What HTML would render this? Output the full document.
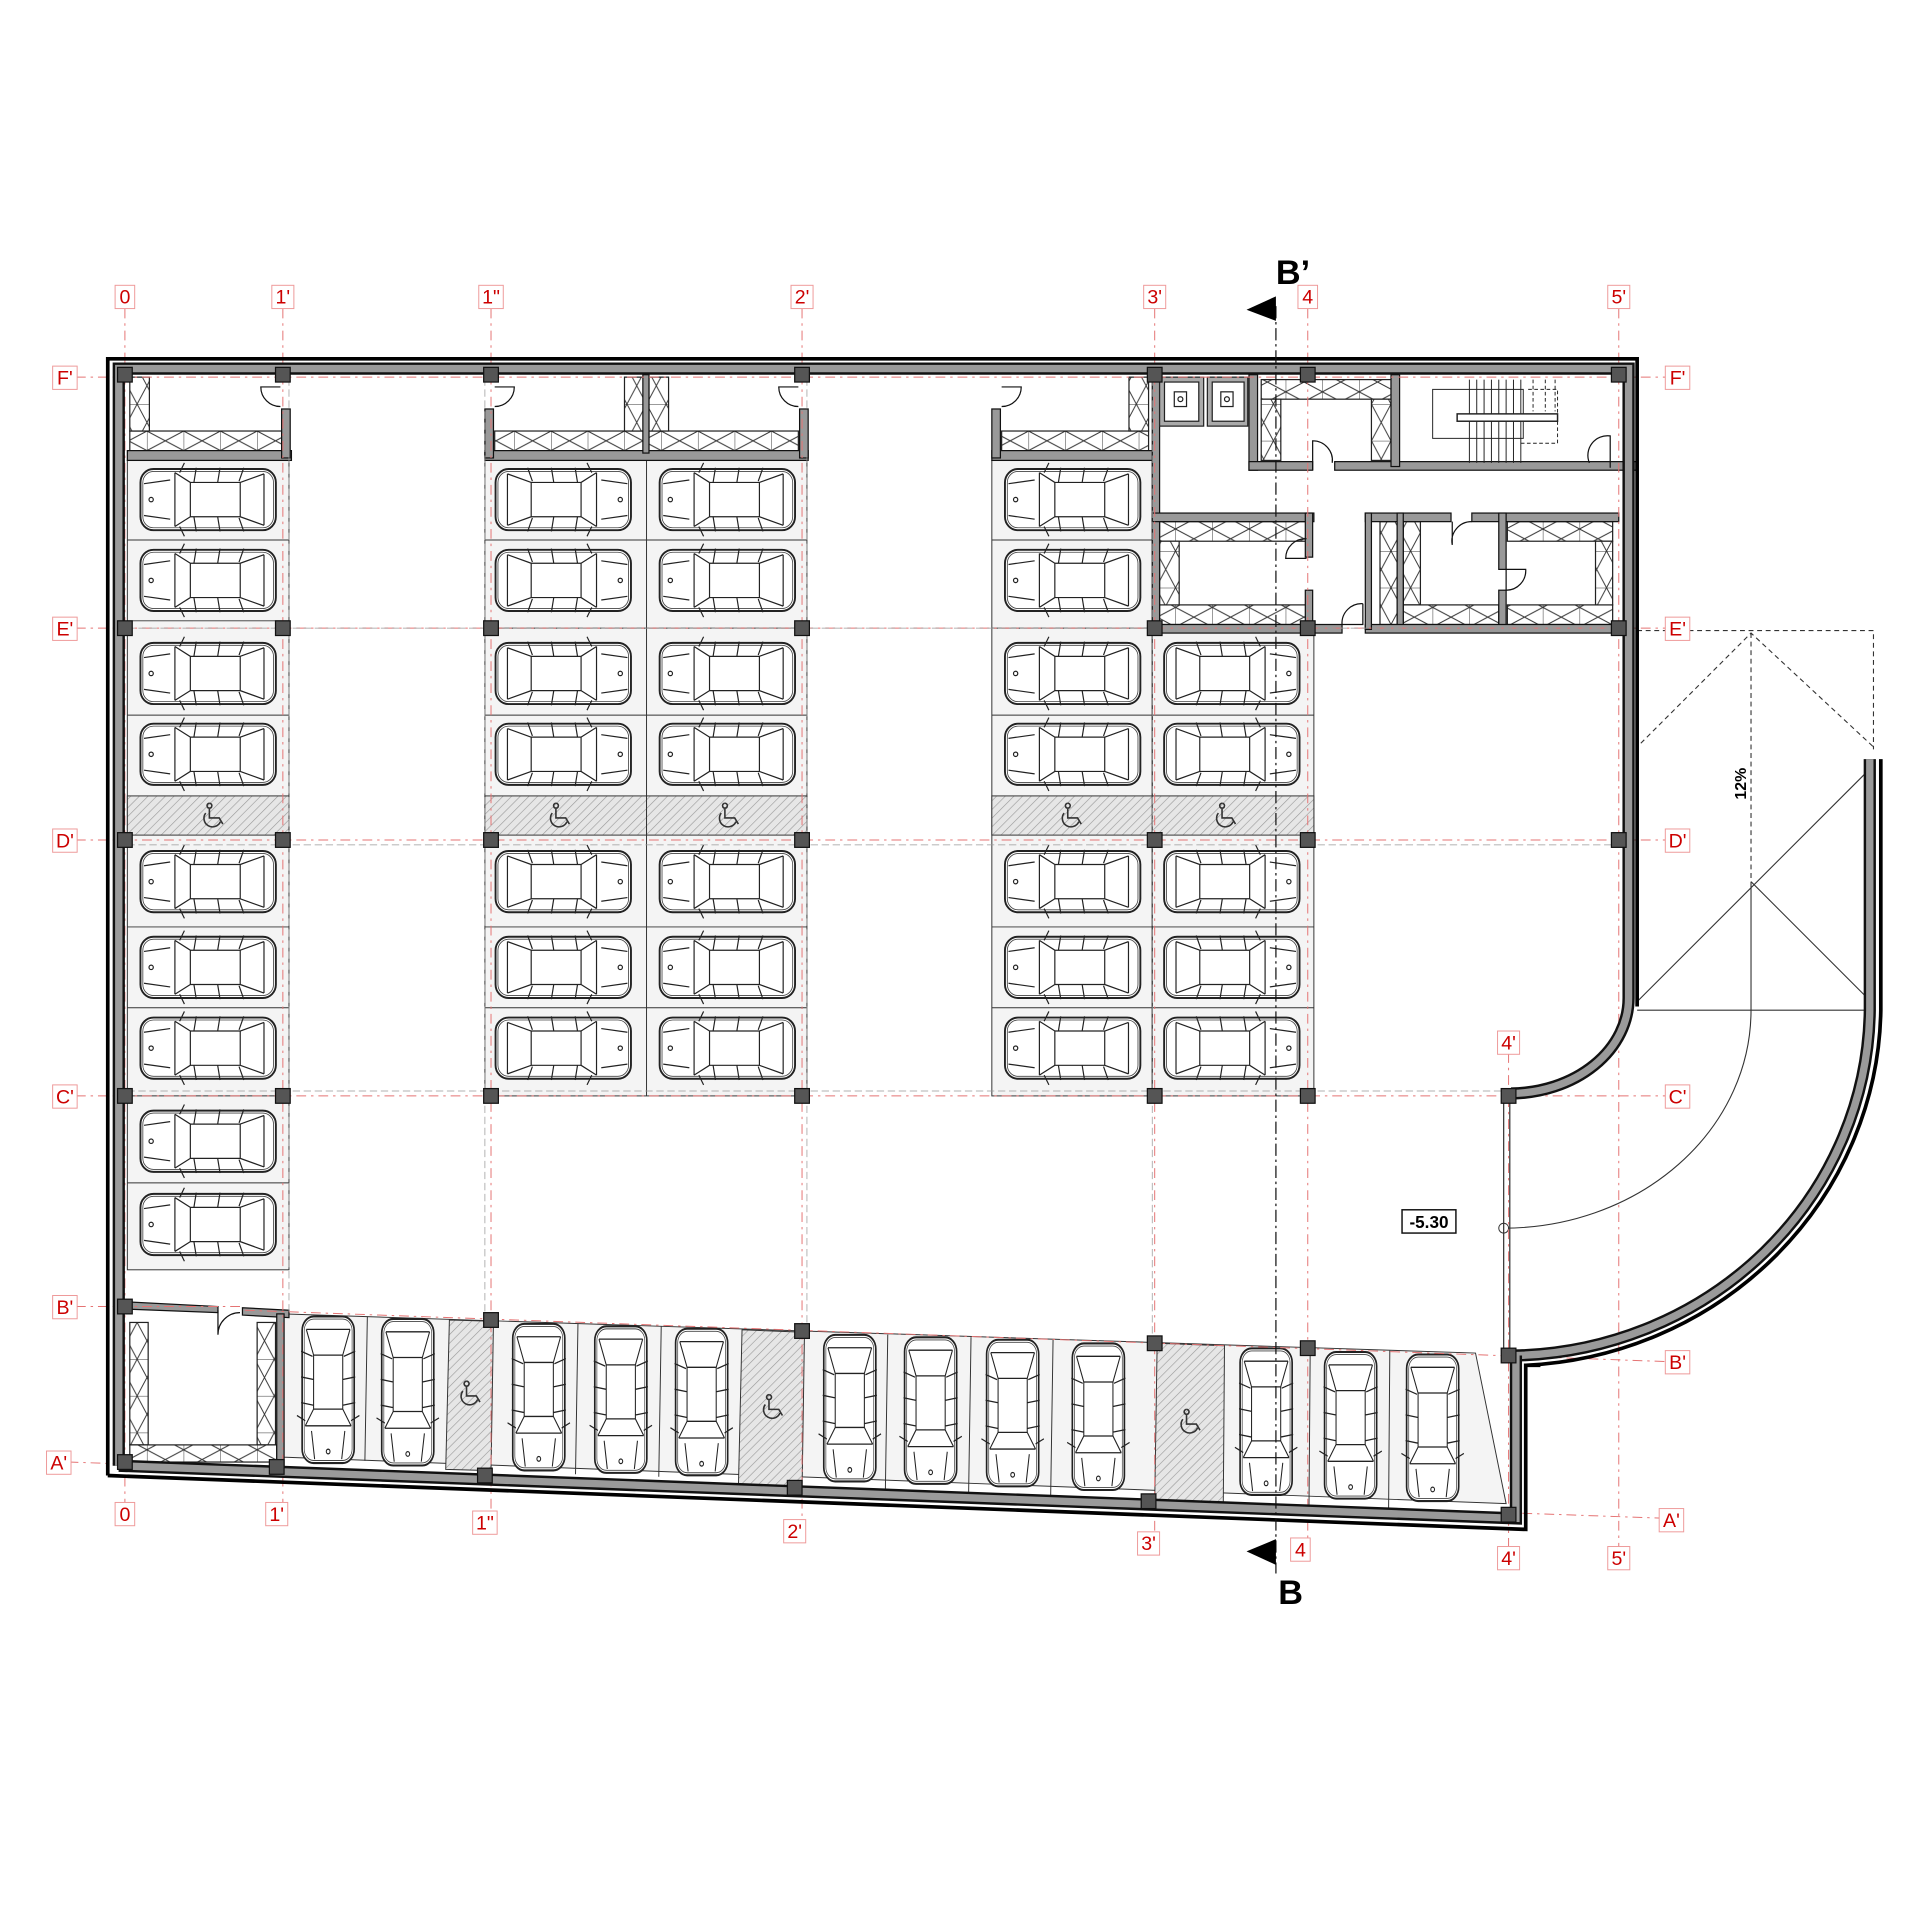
<!DOCTYPE html>
<html><head><meta charset="utf-8"><style>
html,body{margin:0;padding:0;background:#fff;}
svg{display:block;}
.lb{fill:#c00;font-family:"Liberation Sans",sans-serif;font-size:16px;text-anchor:middle;}
</style></head><body>
<svg width="1920" height="1920" viewBox="0 0 1568 1568" xmlns="http://www.w3.org/2000/svg">
<defs>
<pattern id="hat" width="5" height="5" patternUnits="userSpaceOnUse" patternTransform="rotate(45)">
<rect width="5" height="5" fill="#e6e6e6"/><line x1="0" y1="0" x2="0" y2="5" stroke="#999" stroke-width="1"/></pattern>
<pattern id="xh" width="30" height="16" patternUnits="userSpaceOnUse">
<rect width="30" height="16" fill="#fff"/><path d="M0 0L30 16M0 16L30 0M0 0V16" stroke="#333" stroke-width="0.8" fill="none"/></pattern>
<pattern id="xv" width="16" height="30" patternUnits="userSpaceOnUse">
<rect width="16" height="30" fill="#fff"/><path d="M0 0L16 30M16 0L0 30M0 0H16" stroke="#333" stroke-width="0.8" fill="none"/></pattern>
<g id="car">
<rect x="-57" y="-25" width="114" height="50" rx="11" fill="#fff" stroke="#222" stroke-width="1.6"/>
<rect x="-55" y="-23" width="110" height="46" rx="9" fill="none" stroke="#444" stroke-width="0.7"/>
<path d="M-47 -21V21M-47 -21L-27 -14M-47 21L-27 14M-27 -14H15M-27 14H15M-27 -14V14M15 -14V14M15 -14L28 -22M15 14L28 22M28 -22V22M32 -16L54 -13M32 16L54 13M-30 -26L-26 -15M-10 -26L-8 -14M10 -26L12 -14M20 -30L24 -22M20 30L24 22M-30 26L-26 15M-10 26L-8 14M10 26L12 14" stroke="#222" stroke-width="1" fill="none"/>
<circle cx="48" cy="0" r="1.8" fill="none" stroke="#222"/>
</g>
<g id="hc"><path d="M-4 -9a2 2 0 1 0 0.1 0M-4 -5V3H4L7 8M-7 -1A7 7 0 1 0 5 6" stroke="#333" stroke-width="1.3" fill="none"/></g>
<rect id="col" x="-6" y="-6" width="12" height="12" fill="#555" stroke="#111" stroke-width="1"/>
</defs>

<!-- parking floor backgrounds -->
<g fill="#f4f4f4" stroke="#333" stroke-width="0.8">
<rect x="104" y="376" width="132" height="661"/>
<rect x="396" y="376" width="263" height="519"/>
<rect x="810" y="376" width="131" height="519"/>
<rect x="941" y="513" width="132" height="382"/>
</g>
<g stroke="#333" stroke-width="0.8">
<path d="M104 441H236M104 507H236M104 584H236M104 757H236M104 823H236M104 895H236M104 966H236"/>
<path d="M396 441H659M396 513H659M396 584H659M396 757H659M396 823H659M528 376V895"/>
<path d="M810 441H941M810 513H1073M810 584H1073M810 757H1073M810 823H1073M941 513V895"/>
</g>
<g fill="url(#hat)" stroke="#333" stroke-width="0.8">
<rect x="104" y="650" width="132" height="32"/>
<rect x="396" y="650" width="132" height="32"/><rect x="528" y="650" width="131" height="32"/>
<rect x="810" y="650" width="131" height="32"/><rect x="941" y="650" width="132" height="32"/>
</g>
<use href="#hc" x="175" y="665"/><use href="#hc" x="458" y="665"/><use href="#hc" x="596" y="665"/><use href="#hc" x="876" y="665"/><use href="#hc" x="1002" y="665"/>

<!-- bottom row -->
<path d="M231 1073L1205 1105L1230 1228L231 1190Z" fill="#f4f4f4" stroke="#333" stroke-width="0.8"/>
<g fill="url(#hat)" stroke="#333" stroke-width="0.8">
<path d="M367 1078L403 1079L401 1201L364 1200Z"/>
<path d="M606 1086L657 1088L655 1218L603 1216Z"/>
<path d="M945 1097L1000 1099L999 1230L943 1228Z"/>
</g>
<g stroke="#333" stroke-width="0.8">
<path d="M300 1075L298 1193M472 1081L470 1204M540 1083L538 1206M725 1090L723 1220M793 1092L791 1222M860 1094L858 1225M1070 1101L1069 1233M1135 1103L1134 1235"/>
</g>
<use href="#hc" x="385" y="1137"/><use href="#hc" x="632" y="1148"/><use href="#hc" x="973" y="1160"/>
<g>
<use href="#car" transform="translate(268,1135) rotate(90) scale(1.05,0.85)"/>
<use href="#car" transform="translate(333,1137) rotate(90) scale(1.05,0.85)"/>
<use href="#car" transform="translate(440,1141) rotate(90) scale(1.05,0.85)"/>
<use href="#car" transform="translate(507,1143) rotate(90) scale(1.05,0.85)"/>
<use href="#car" transform="translate(573,1145) rotate(90) scale(1.05,0.85)"/>
<use href="#car" transform="translate(694,1150) rotate(90) scale(1.05,0.85)"/>
<use href="#car" transform="translate(760,1152) rotate(90) scale(1.05,0.85)"/>
<use href="#car" transform="translate(827,1154) rotate(90) scale(1.05,0.85)"/>
<use href="#car" transform="translate(897,1157) rotate(90) scale(1.05,0.85)"/>
<use href="#car" transform="translate(1034,1161) rotate(90) scale(1.05,0.85)"/>
<use href="#car" transform="translate(1103,1164) rotate(90) scale(1.05,0.85)"/>
<use href="#car" transform="translate(1170,1166) rotate(90) scale(1.05,0.85)"/>
</g>

<!-- cars -->
<g>
<use href="#car" transform="translate(170,408) scale(-0.97,1)"/>
<use href="#car" transform="translate(170,474) scale(-0.97,1)"/>
<use href="#car" transform="translate(170,550) scale(-0.97,1)"/>
<use href="#car" transform="translate(170,616) scale(-0.97,1)"/>
<use href="#car" transform="translate(170,720) scale(-0.97,1)"/>
<use href="#car" transform="translate(170,790) scale(-0.97,1)"/>
<use href="#car" transform="translate(170,856) scale(-0.97,1)"/>
<use href="#car" transform="translate(170,932) scale(-0.97,1)"/>
<use href="#car" transform="translate(170,1000) scale(-0.97,1)"/>
<use href="#car" transform="translate(460,408) scale(0.97,1)"/>
<use href="#car" transform="translate(460,474) scale(0.97,1)"/>
<use href="#car" transform="translate(460,550) scale(0.97,1)"/>
<use href="#car" transform="translate(460,616) scale(0.97,1)"/>
<use href="#car" transform="translate(460,720) scale(0.97,1)"/>
<use href="#car" transform="translate(460,790) scale(0.97,1)"/>
<use href="#car" transform="translate(460,856) scale(0.97,1)"/>
<use href="#car" transform="translate(594,408) scale(-0.97,1)"/>
<use href="#car" transform="translate(594,474) scale(-0.97,1)"/>
<use href="#car" transform="translate(594,550) scale(-0.97,1)"/>
<use href="#car" transform="translate(594,616) scale(-0.97,1)"/>
<use href="#car" transform="translate(594,720) scale(-0.97,1)"/>
<use href="#car" transform="translate(594,790) scale(-0.97,1)"/>
<use href="#car" transform="translate(594,856) scale(-0.97,1)"/>
<use href="#car" transform="translate(876,408) scale(-0.97,1)"/>
<use href="#car" transform="translate(876,474) scale(-0.97,1)"/>
<use href="#car" transform="translate(876,550) scale(-0.97,1)"/>
<use href="#car" transform="translate(876,616) scale(-0.97,1)"/>
<use href="#car" transform="translate(876,720) scale(-0.97,1)"/>
<use href="#car" transform="translate(876,790) scale(-0.97,1)"/>
<use href="#car" transform="translate(876,856) scale(-0.97,1)"/>
<use href="#car" transform="translate(1006,550) scale(0.97,1)"/>
<use href="#car" transform="translate(1006,616) scale(0.97,1)"/>
<use href="#car" transform="translate(1006,720) scale(0.97,1)"/>
<use href="#car" transform="translate(1006,790) scale(0.97,1)"/>
<use href="#car" transform="translate(1006,856) scale(0.97,1)"/>
</g>

<!-- storage rooms top -->
<g stroke="#222" stroke-width="1">
<rect x="106" y="352" width="124" height="16" fill="url(#xh)"/>
<rect x="106" y="308" width="16" height="44" fill="url(#xv)"/>
<rect x="404" y="352" width="122" height="16" fill="url(#xh)"/>
<rect x="510" y="308" width="16" height="44" fill="url(#xv)"/>
<rect x="530" y="352" width="122" height="16" fill="url(#xh)"/>
<rect x="530" y="308" width="16" height="44" fill="url(#xv)"/>
<rect x="818" y="352" width="120" height="16" fill="url(#xh)"/>
<rect x="922" y="308" width="16" height="44" fill="url(#xv)"/>
</g>
<g fill="#999" stroke="#111" stroke-width="1">
<rect x="104" y="368" width="134" height="8"/>
<rect x="230" y="334" width="7" height="40"/>
<rect x="396" y="368" width="264" height="8"/>
<rect x="396" y="334" width="7" height="40"/>
<rect x="653" y="334" width="7" height="40"/>
<rect x="525" y="306" width="5" height="64"/>
<rect x="810" y="368" width="134" height="8"/>
<rect x="810" y="334" width="7" height="40"/>
</g>
<g stroke="#111" stroke-width="1" fill="none">
<path d="M229 316H213A16 16 0 0 0 229 332"/>
<path d="M404 316H420A16 16 0 0 1 404 332"/>
<path d="M652 316H636A16 16 0 0 0 652 332"/>
<path d="M818 316H834A16 16 0 0 1 818 332"/>
</g>

<!-- bottom-left room -->
<g stroke="#222" stroke-width="1">
<rect x="106" y="1080" width="15" height="100" fill="url(#xv)"/>
<rect x="210" y="1080" width="15" height="100" fill="url(#xv)"/>
<rect x="106" y="1180" width="120" height="14" fill="url(#xh)"/>
</g>
<g fill="#999" stroke="#111" stroke-width="1">
<path d="M100 1063L178 1067V1072L100 1069Z"/>
<path d="M198 1068L236 1070V1076L198 1074Z"/>
<rect x="226" y="1073" width="6" height="125"/>
</g>
<path d="M178 1070V1090A18 18 0 0 1 196 1072" fill="none" stroke="#111"/>

<!-- core -->
<g stroke="#222" stroke-width="1">
<rect x="1030" y="310" width="106" height="16" fill="url(#xh)"/>
<rect x="1030" y="326" width="16" height="50" fill="url(#xv)"/>
<rect x="1120" y="326" width="16" height="50" fill="url(#xv)"/>
<rect x="947" y="426" width="120" height="16" fill="url(#xh)"/>
<rect x="947" y="494" width="120" height="16" fill="url(#xh)"/>
<rect x="947" y="442" width="16" height="52" fill="url(#xv)"/>
<rect x="1127" y="426" width="14" height="84" fill="url(#xv)"/>
<rect x="1146" y="426" width="14" height="68" fill="url(#xv)"/>
<rect x="1146" y="494" width="78" height="16" fill="url(#xh)"/>
<rect x="1231" y="426" width="86" height="16" fill="url(#xh)"/>
<rect x="1231" y="494" width="86" height="16" fill="url(#xh)"/>
<rect x="1303" y="442" width="14" height="52" fill="url(#xv)"/>
</g>
<g fill="#999" stroke="#111" stroke-width="1">
<rect x="941" y="308" width="6" height="205"/>
<rect x="1020" y="306" width="7" height="78"/>
<rect x="1020" y="377" width="52" height="7"/>
<rect x="1090" y="377" width="247" height="7"/>
<rect x="1136" y="306" width="7" height="75"/>
<rect x="941" y="419" width="132" height="7"/>
<rect x="1066" y="419" width="6" height="36"/>
<rect x="1066" y="482" width="6" height="30"/>
<rect x="1115" y="419" width="70" height="7"/>
<rect x="1202" y="419" width="120" height="7"/>
<rect x="1141" y="419" width="5" height="94"/>
<rect x="1224" y="419" width="6" height="46"/>
<rect x="1224" y="482" width="6" height="30"/>
<rect x="941" y="510" width="155" height="7"/>
<rect x="1115" y="510" width="215" height="7"/>
<rect x="1115" y="419" width="5" height="95"/>
</g>
<g stroke="#111" stroke-width="1" fill="none">
<path d="M1072 384V360A16 16 0 0 1 1088 378"/>
<path d="M1315 382V356A16 16 0 0 0 1298 378"/>
<path d="M1067 456H1050A16 16 0 0 1 1067 440"/>
<path d="M1113 493V510H1096A16 16 0 0 1 1113 493"/>
<path d="M1186 426V445A16 16 0 0 1 1202 426"/>
<path d="M1230 465V482A16 16 0 0 0 1246 465Z"/>
</g>
<!-- elevators -->
<g stroke="#222" stroke-width="1" fill="#fff">
<rect x="947" y="308" width="36" height="40" fill="#aaa"/><rect x="951" y="312" width="28" height="32"/>
<rect x="986" y="308" width="33" height="40" fill="#aaa"/><rect x="990" y="312" width="26" height="32"/>
<rect x="959" y="320" width="10" height="12"/><circle cx="964" cy="326" r="2"/>
<rect x="997" y="320" width="10" height="12"/><circle cx="1002" cy="326" r="2"/>
</g>
<!-- stair -->
<g stroke="#222" stroke-width="0.8" fill="none">
<rect x="1170" y="318" width="74" height="40"/>
<path d="M1200 310V378M1206 310V378M1212 310V378M1218 310V378M1224 310V378M1230 310V378M1236 310V378M1242 310V378"/>
<rect x="1190" y="338" width="82" height="6" fill="#fff" stroke-width="1.2"/>
<path d="M1248 318H1272V362H1240M1252 310V336M1262 310V336M1270 310V336" stroke-dasharray="3 2"/>
</g>

<!-- ramp -->
<g stroke="#333" stroke-width="0.9" fill="none">
<path d="M1337 515H1530V612M1340 607L1430 517L1530 610M1430 517V720" stroke-dasharray="4 3"/>
<path d="M1337 818L1530 625M1430 720L1530 820M1337 825H1530M1430 720V825A202 178 0 0 1 1228 1003"/>
</g>
<circle cx="1228" cy="1003" r="4" fill="#fff" stroke="#333" stroke-width="0.8"/>
<text x="1426" y="640" transform="rotate(-90 1426 640)" font-family="Liberation Sans,sans-serif" font-size="13" font-weight="bold" text-anchor="middle">12%</text>
<rect x="1145" y="988" width="44" height="19" fill="#fff" stroke="#111" stroke-width="1.2"/>
<text x="1167" y="1003" font-family="Liberation Sans,sans-serif" font-size="14" font-weight="bold" text-anchor="middle">-5.30</text>

<!-- grid lines -->
<g stroke="#e57373" stroke-width="0.8" stroke-dasharray="8 4 2 4" fill="none">
<path d="M102 252V1228M231 252V1228M401 252V1236M655 252V1242M943 252V1252M1068 252V1257M1322 252V1264M1232 860V1264"/>
<path d="M62 308H1362M62 513H1362M62 686H1362M62 895H1362M62 1067H200M200 1070L1362 1112M56 1194L1362 1240"/>
</g>
<g stroke="#999" stroke-width="0.6" stroke-dasharray="6 3" fill="none">
<path d="M104 513H1330M104 690H1330M104 891H1232M236 300V1073M396 300V1073M659 300V1088M941 300V1095"/>
</g>

<!-- walls -->
<g fill="none" stroke-linejoin="miter">
<path d="M97 1197V301H1330V815A97 78 0 0 1 1234 893" stroke="#111" stroke-width="10"/>
<path d="M97 1197V301H1330V815A97 78 0 0 1 1234 893" stroke="#9a9a9a" stroke-width="6"/>
<path d="M1237 1107A296 286 0 0 0 1527 825V620" stroke="#111" stroke-width="10"/>
<path d="M1237 1107A296 286 0 0 0 1527 825V620" stroke="#9a9a9a" stroke-width="6"/>
<path d="M97 1197L1238 1240V1107" stroke="#111" stroke-width="10"/>
<path d="M97 1197L1238 1240V1107" stroke="#9a9a9a" stroke-width="6"/>
<path d="M88 1205V293H1337V822" stroke="#000" stroke-width="3"/>
<path d="M88 1205L1246 1249V1115H1258" stroke="#000" stroke-width="3"/>
<path d="M1246 1115A305 295 0 0 0 1536 825V620" stroke="#000" stroke-width="3"/>
<path d="M1228 900V1103M1233 900V1103" stroke="#333" stroke-width="1"/>
</g>

<!-- columns -->
<g>
<use href="#col" x="102" y="306"/><use href="#col" x="231" y="306"/><use href="#col" x="401" y="306"/><use href="#col" x="655" y="306"/><use href="#col" x="943" y="306"/><use href="#col" x="1068" y="306"/><use href="#col" x="1322" y="306"/>
<use href="#col" x="102" y="513"/><use href="#col" x="231" y="513"/><use href="#col" x="401" y="513"/><use href="#col" x="655" y="513"/><use href="#col" x="943" y="513"/><use href="#col" x="1068" y="513"/><use href="#col" x="1322" y="513"/>
<use href="#col" x="102" y="686"/><use href="#col" x="231" y="686"/><use href="#col" x="401" y="686"/><use href="#col" x="655" y="686"/><use href="#col" x="943" y="686"/><use href="#col" x="1068" y="686"/><use href="#col" x="1322" y="686"/>
<use href="#col" x="102" y="895"/><use href="#col" x="231" y="895"/><use href="#col" x="401" y="895"/><use href="#col" x="655" y="895"/><use href="#col" x="943" y="895"/><use href="#col" x="1068" y="895"/><use href="#col" x="1232" y="895"/>
<use href="#col" x="102" y="1067"/><use href="#col" x="401" y="1078"/><use href="#col" x="655" y="1087"/><use href="#col" x="943" y="1097"/><use href="#col" x="1068" y="1101"/><use href="#col" x="1232" y="1107"/>
<use href="#col" x="102" y="1194"/><use href="#col" x="226" y="1198"/><use href="#col" x="396" y="1205"/><use href="#col" x="649" y="1215"/><use href="#col" x="938" y="1226"/><use href="#col" x="1232" y="1237"/>
</g>

<!-- section line -->
<path d="M1042 250V1285" stroke="#111" stroke-width="1" stroke-dasharray="10 3 2 3"/>
<path d="M1042 242L1018 253L1042 262Z" fill="#000"/>
<path d="M1042 1257L1018 1267L1042 1278Z" fill="#000"/>
<text x="1056" y="232" font-family="Liberation Sans,sans-serif" font-size="28" font-weight="bold" text-anchor="middle">B’</text>
<text x="1054" y="1310" font-family="Liberation Sans,sans-serif" font-size="28" font-weight="bold" text-anchor="middle">B</text>

<!-- grid labels -->
<g fill="#fff" stroke="#e99" stroke-width="0.8">
<rect x="94" y="233" width="16" height="19"/><rect x="222" y="233" width="18" height="19"/><rect x="391" y="233" width="20" height="19"/><rect x="646" y="233" width="18" height="19"/><rect x="934" y="233" width="18" height="19"/><rect x="1060" y="233" width="16" height="19"/><rect x="1313" y="233" width="18" height="19"/>
<rect x="94" y="1227" width="16" height="19"/><rect x="217" y="1227" width="18" height="19"/><rect x="386" y="1234" width="20" height="19"/><rect x="640" y="1241" width="18" height="19"/><rect x="929" y="1251" width="18" height="19"/><rect x="1054" y="1256" width="16" height="19"/><rect x="1223" y="1263" width="18" height="19"/><rect x="1313" y="1263" width="18" height="19"/><rect x="1223" y="842" width="18" height="19"/>
<rect x="43" y="299" width="20" height="19"/><rect x="43" y="504" width="20" height="19"/><rect x="43" y="677" width="20" height="19"/><rect x="43" y="886" width="20" height="19"/><rect x="43" y="1058" width="20" height="19"/><rect x="38" y="1185" width="20" height="19"/>
<rect x="1360" y="299" width="20" height="19"/><rect x="1360" y="504" width="20" height="19"/><rect x="1360" y="677" width="20" height="19"/><rect x="1360" y="886" width="20" height="19"/><rect x="1360" y="1103" width="20" height="19"/><rect x="1355" y="1232" width="20" height="19"/>
</g>
<g class="lb">
<text x="102" y="248">0</text><text x="231" y="248">1'</text><text x="401" y="248">1"</text><text x="655" y="248">2'</text><text x="943" y="248">3'</text><text x="1068" y="248">4</text><text x="1322" y="248">5'</text>
<text x="102" y="1242">0</text><text x="226" y="1242">1'</text><text x="396" y="1249">1"</text><text x="649" y="1256">2'</text><text x="938" y="1266">3'</text><text x="1062" y="1271">4</text><text x="1232" y="1278">4'</text><text x="1322" y="1278">5'</text><text x="1232" y="857">4'</text>
<text x="53" y="314">F'</text><text x="53" y="519">E'</text><text x="53" y="692">D'</text><text x="53" y="901">C'</text><text x="53" y="1073">B'</text><text x="48" y="1200">A'</text>
<text x="1370" y="314">F'</text><text x="1370" y="519">E'</text><text x="1370" y="692">D'</text><text x="1370" y="901">C'</text><text x="1370" y="1118">B'</text><text x="1365" y="1247">A'</text>
</g>
</svg>
</body></html>
